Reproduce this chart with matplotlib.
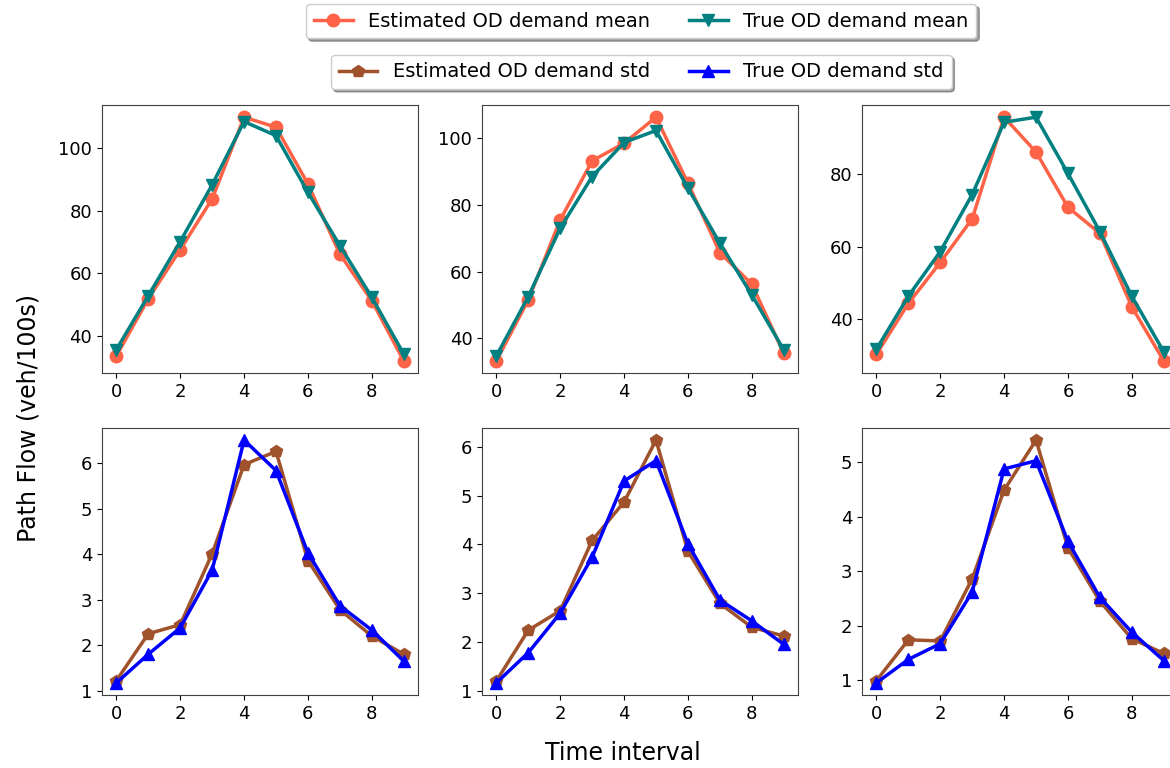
import matplotlib
matplotlib.use("Agg")
import matplotlib.pyplot as plt

# time intervals
t = list(range(10))

# mean path flows (top row)
est_mean_1 = [33.6, 51.8, 67.5, 83.7, 109.8, 106.6, 88.5, 66.1, 51.2, 32.0]
true_mean_1 = [35.6, 52.8, 70.1, 88.2, 108.4, 103.9, 85.8, 68.8, 52.3, 34.2]
est_mean_2 = [33.2, 51.5, 75.5, 93.2, 98.5, 106.3, 86.5, 65.7, 56.2, 35.5]
true_mean_2 = [34.7, 52.5, 73.0, 88.5, 98.7, 102.3, 85.0, 68.5, 53.0, 36.5]
est_mean_3 = [30.4, 44.4, 55.7, 67.7, 95.7, 86.1, 70.9, 63.7, 43.5, 28.6]
true_mean_3 = [31.8, 46.4, 58.7, 74.4, 94.3, 95.7, 80.2, 64.2, 46.4, 31.1]

# std of path flows (bottom row)
est_std_1 = [1.22, 2.25, 2.45, 4.01, 5.97, 6.26, 3.86, 2.78, 2.20, 1.80]
true_std_1 = [1.17, 1.80, 2.38, 3.65, 6.51, 5.84, 4.03, 2.87, 2.33, 1.65]
est_std_2 = [1.20, 2.24, 2.64, 4.08, 4.87, 6.14, 3.86, 2.79, 2.30, 2.12]
true_std_2 = [1.16, 1.78, 2.59, 3.74, 5.30, 5.72, 4.01, 2.86, 2.43, 1.95]
est_std_3 = [0.99, 1.74, 1.72, 2.86, 4.49, 5.41, 3.43, 2.45, 1.76, 1.49]
true_std_3 = [0.95, 1.38, 1.67, 2.62, 4.88, 5.03, 3.55, 2.52, 1.88, 1.36]

means = [(est_mean_1, true_mean_1), (est_mean_2, true_mean_2), (est_mean_3, true_mean_3)]
stds = [(est_std_1, true_std_1), (est_std_2, true_std_2), (est_std_3, true_std_3)]

plt.rcParams['font.family'] = ['DejaVu Sans']
plt.rcParams['xtick.labelsize'] = 13
plt.rcParams['ytick.labelsize'] = 13
plt.rcParams['axes.edgecolor'] = '0.25'

fig = plt.figure(figsize=(11.7, 7.68), dpi=100)

lefts = [0.0872, 0.4120, 0.7368]
w = 0.2701
lw = 2.5
ms = 9

for i, (est, tru) in enumerate(means):
    ax = fig.add_axes([lefts[i], 0.5143, w, 0.349])
    l1, = ax.plot(t, est, color='tomato', marker='o', lw=lw, ms=ms,
                  label='Estimated OD demand mean')
    l2, = ax.plot(t, tru, color='teal', marker='v', lw=lw, ms=ms,
                  label='True OD demand mean')
    ax.set_xticks([0, 2, 4, 6, 8])

for i, (est, tru) in enumerate(stds):
    ax = fig.add_axes([lefts[i], 0.0951, w, 0.3477])
    l3, = ax.plot(t, est, color='sienna', marker='p', lw=lw, ms=ms,
                  label='Estimated OD demand std')
    l4, = ax.plot(t, tru, color='blue', marker='^', lw=lw, ms=ms,
                  label='True OD demand std')
    ax.set_xticks([0, 2, 4, 6, 8])

fig.legend(handles=[l1, l2], loc='upper center', bbox_to_anchor=(0.548, 0.995),
           ncol=2, fontsize=14, shadow=True, borderaxespad=0.)
fig.legend(handles=[l3, l4], loc='upper center', bbox_to_anchor=(0.548, 0.929),
           ncol=2, fontsize=14, shadow=True, borderaxespad=0.)

fig.text(0.024, 0.456, 'Path Flow (veh/100s)', rotation=90, fontsize=17,
         ha='center', va='center')
fig.text(0.532, 0.020, 'Time interval', fontsize=17, ha='center', va='center')

fig.savefig('out.png', dpi=100)
